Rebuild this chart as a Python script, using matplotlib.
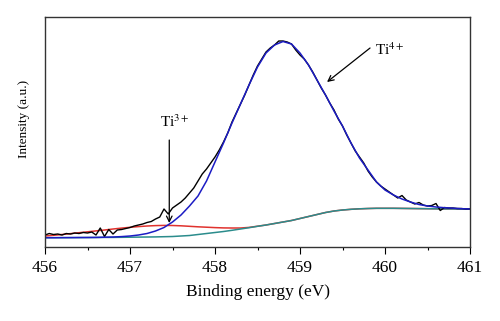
import matplotlib
matplotlib.use("Agg")
import matplotlib.pyplot as plt
import numpy as np

plt.rcParams['font.family'] = ['Liberation Serif', 'DejaVu Serif']
plt.rcParams['mathtext.fontset'] = 'stix'

# ---------------------------- measured spectrum (Ti 2p3/2) ----------------------------
energy_raw = np.round(np.arange(456.0, 461.0001, 0.05), 2)
counts_raw = [
    12, 13.5, 12.5, 13, 12, 13.5, 13, 14, 13.5, 14.5,
    14, 15, 12, 19, 10.5, 17.5, 13, 17, 17.5, 18.5,
    19.5, 21, 22, 23, 24.5, 25.5, 28, 30, 38, 33,
    39, 42, 45, 49, 54, 59, 66, 73, 78, 84,
    90, 97, 105, 114, 125, 134, 143, 152, 162, 172,
    181, 188, 195, 199, 202, 206, 206, 205, 203, 197,
    192, 188, 182, 175, 167, 159, 152, 144, 137, 128,
    121, 112, 104, 96, 90, 84, 76, 70, 65, 61,
    58, 55, 52, 49, 51.5, 47, 45, 43, 44.5, 42,
    41, 41.5, 43.5, 36.5, 39.5, 39, 39, 38.5, 38.5, 38,
    38,
]

# ---------------------------- fitted curves ----------------------------
energy_fit = np.round(np.arange(456.0, 461.0001, 0.1), 1)
background = [
    9.3, 9.3, 9.3, 9.4, 9.4, 9.5, 9.5, 9.6, 9.6, 9.7,
    9.8, 9.9, 10.0, 10.1, 10.3, 10.5, 11.0, 11.5, 12.5, 13.5,
    14.5, 15.5, 16.7, 18.0, 19.3, 20.7, 22.0, 23.5, 25.0, 26.5,
    28.5, 30.5, 32.5, 34.5, 36.0, 37.0, 37.7, 38.2, 38.5, 38.7,
    38.7, 38.7, 38.6, 38.5, 38.4, 38.3, 38.2, 38.1, 38.1, 38.0,
    38.0,
]
ti3_fit = [
    11.0, 11.7, 12.5, 13.4, 14.3, 15.2, 16.1, 17.0, 18.0, 18.9,
    19.7, 20.4, 21.0, 21.4, 21.6, 21.5, 21.2, 20.7, 20.2, 19.8,
    19.4, 19.1, 19.0, 19.0, 19.6, 20.8, 22.0, 23.5, 25.0, 26.5,
    28.5, 30.5, 32.5, 34.5, 36.0, 37.0, 37.7, 38.2, 38.5, 38.7,
    38.7, 38.7, 38.6, 38.5, 38.4, 38.3, 38.2, 38.1, 38.1, 38.0,
    38.0,
]
ti4_fit = [
    9.3, 9.3, 9.4, 9.4, 9.5, 9.5, 9.6, 9.8, 10.0, 10.4,
    11.0, 12.0, 13.5, 16.0, 19.5, 25.0, 32.0, 41.0, 51.0, 66.0,
    85.0, 104.0, 124.0, 143.0, 162.0, 180.0, 194.0, 202.0, 205.5, 203.0,
    194.0, 182.0, 167.0, 152.0, 136.0, 121.0, 104.0, 89.0, 77.0, 65.0,
    57.0, 52.0, 48.0, 45.0, 42.5, 41.0, 40.0, 39.3, 38.8, 38.3,
    38.0,
]

fig = plt.figure(figsize=(5.0, 3.21), dpi=100)
ax = fig.add_axes([0.09, 0.2305, 0.85, 0.7165])

ax.plot(energy_fit, ti3_fit, color='#e0322e', lw=1.1)
ax.plot(energy_fit, background, color='#2b8c8c', lw=1.1)
ax.plot(energy_raw, counts_raw, color='black', lw=1.0)
ax.plot(energy_fit, ti4_fit, color='#1c1cc4', lw=1.1)

ax.set_xlim(456, 461)
ax.set_ylim(0, 230)
ax.set_xticks(np.arange(456, 461.5, 1))
ax.set_xticks(np.arange(456.5, 461, 1), minor=True)
ax.set_yticks([])
ax.tick_params(axis='x', which='major', direction='out', length=5, width=0.8,
               labelsize=12.5, pad=4)
ax.tick_params(axis='x', which='minor', direction='out', length=2.5, width=0.8)
for sp in ax.spines.values():
    sp.set_linewidth(1.0)
    sp.set_color('#333333')

ax.set_xlabel('Binding energy (eV)', fontsize=12.5, labelpad=6)
ax.set_ylabel('Intensity (a.u.)', fontsize=9.5)
ax.yaxis.set_label_coords(-0.035, 0.557)

# peak labels
ax.text(457.35, 120, 'Ti$^{3+}$', ha='left', va='baseline', fontsize=11)
ax.annotate('', xy=(457.462, 24), xytext=(457.462, 107),
            arrowprops=dict(arrowstyle='->', color='black', lw=0.9,
                            shrinkA=0, shrinkB=0))
ax.text(459.88, 192, 'Ti$^{4+}$', ha='left', va='baseline', fontsize=11)
ax.annotate('', xy=(459.318, 165), xytext=(459.824, 199),
            arrowprops=dict(arrowstyle='->', color='black', lw=0.9,
                            shrinkA=0, shrinkB=0))

fig.savefig('out.png', dpi=100)
